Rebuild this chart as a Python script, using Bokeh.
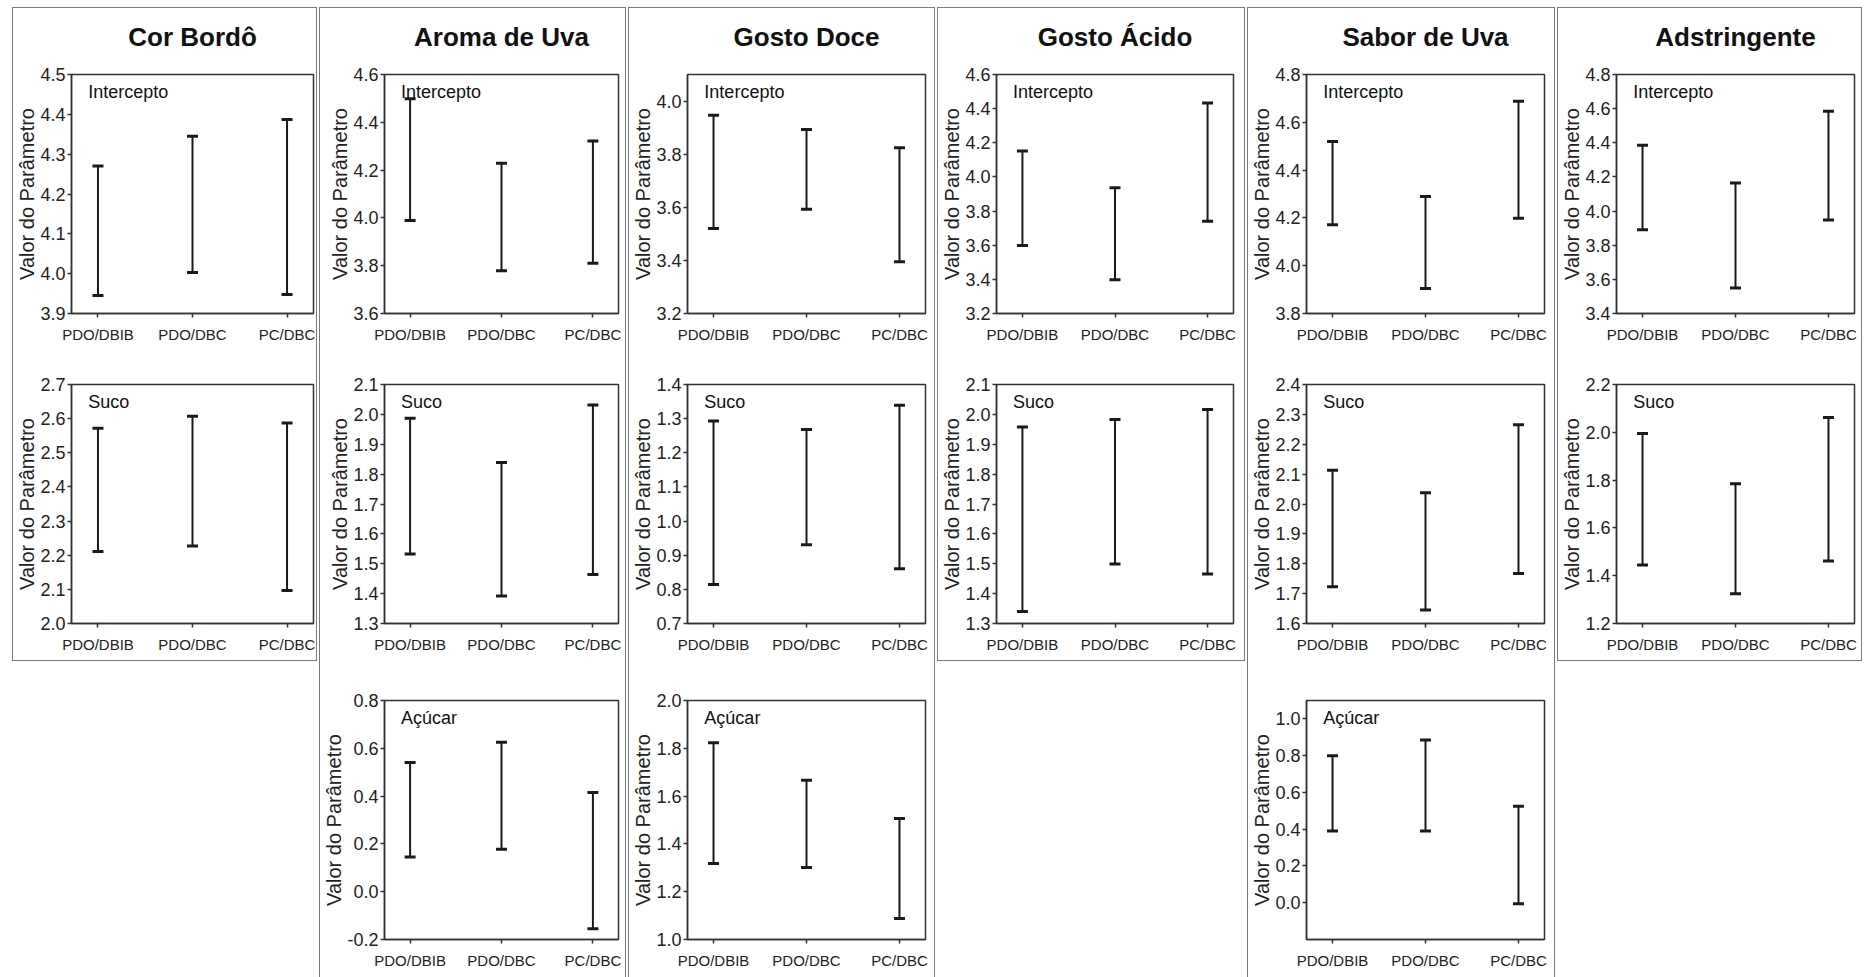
from bokeh.plotting import figure
from bokeh.layouts import row, column
from bokeh.models import Range1d, FixedTicker, Label, NumeralTickFormatter, Spacer
from bokeh.core.properties import value
from bokeh.embed import file_html
from bokeh.resources import INLINE

FONT = "Liberation Sans"

categories = ["PDO/DBIB", "PDO/DBC", "PC/DBC"]
column_titles = ["Cor Bordô", "Aroma de Uva", "Gosto Doce", "Gosto Ácido", "Sabor de Uva", "Adstringente"]

# ---- Cor Bordô
cor_intercepto_low = [3.945, 4.003, 3.948]
cor_intercepto_high = [4.270, 4.345, 4.387]
cor_suco_low = [2.211, 2.227, 2.097]
cor_suco_high = [2.572, 2.607, 2.587]

# ---- Aroma de Uva
aroma_intercepto_low = [3.989, 3.779, 3.810]
aroma_intercepto_high = [4.499, 4.229, 4.322]
aroma_suco_low = [1.533, 1.392, 1.464]
aroma_suco_high = [1.987, 1.839, 2.031]
aroma_acucar_low = [0.145, 0.178, -0.155]
aroma_acucar_high = [0.541, 0.625, 0.415]

# ---- Gosto Doce
doce_intercepto_low = [3.520, 3.593, 3.395]
doce_intercepto_high = [3.947, 3.893, 3.824]
doce_suco_low = [0.814, 0.931, 0.860]
doce_suco_high = [1.293, 1.268, 1.339]
doce_acucar_low = [1.318, 1.301, 1.088]
doce_acucar_high = [1.823, 1.666, 1.506]

# ---- Gosto Ácido
acido_intercepto_low = [3.599, 3.398, 3.740]
acido_intercepto_high = [4.152, 3.936, 4.433]
acido_suco_low = [1.340, 1.499, 1.466]
acido_suco_high = [1.958, 1.983, 2.016]

# ---- Sabor de Uva
sabor_intercepto_low = [4.171, 3.905, 4.199]
sabor_intercepto_high = [4.520, 4.290, 4.688]
sabor_suco_low = [1.723, 1.645, 1.767]
sabor_suco_high = [2.113, 2.038, 2.265]
sabor_acucar_low = [0.390, 0.390, -0.005]
sabor_acucar_high = [0.800, 0.885, 0.525]

# ---- Adstringente
adst_intercepto_low = [3.890, 3.550, 3.948]
adst_intercepto_high = [4.385, 4.165, 4.585]
adst_suco_low = [1.445, 1.325, 1.462]
adst_suco_high = [1.995, 1.785, 2.062]

# ---- axis tick values
cor_intercepto_ticks = [3.9, 4.0, 4.1, 4.2, 4.3, 4.4, 4.5]
cor_suco_ticks = [2.0, 2.1, 2.2, 2.3, 2.4, 2.5, 2.6, 2.7]
aroma_intercepto_ticks = [3.6, 3.8, 4.0, 4.2, 4.4, 4.6]
aroma_suco_ticks = [1.3, 1.4, 1.5, 1.6, 1.7, 1.8, 1.9, 2.0, 2.1]
aroma_acucar_ticks = [-0.2, 0.0, 0.2, 0.4, 0.6, 0.8]
doce_intercepto_ticks = [3.2, 3.4, 3.6, 3.8, 4.0]
doce_suco_ticks = [0.7, 0.8, 0.9, 1.0, 1.1, 1.2, 1.3, 1.4]
doce_acucar_ticks = [1.0, 1.2, 1.4, 1.6, 1.8, 2.0]
acido_intercepto_ticks = [3.2, 3.4, 3.6, 3.8, 4.0, 4.2, 4.4, 4.6]
acido_suco_ticks = [1.3, 1.4, 1.5, 1.6, 1.7, 1.8, 1.9, 2.0, 2.1]
sabor_intercepto_ticks = [3.8, 4.0, 4.2, 4.4, 4.6, 4.8]
sabor_suco_ticks = [1.6, 1.7, 1.8, 1.9, 2.0, 2.1, 2.2, 2.3, 2.4]
sabor_acucar_ticks = [0.0, 0.2, 0.4, 0.6, 0.8, 1.0]
adst_intercepto_ticks = [3.4, 3.6, 3.8, 4.0, 4.2, 4.4, 4.6, 4.8]
adst_suco_ticks = [1.2, 1.4, 1.6, 1.8, 2.0, 2.2]

columns_spec = [
    [("Intercepto", cor_intercepto_low, cor_intercepto_high, (3.9, 4.5), cor_intercepto_ticks),
     ("Suco", cor_suco_low, cor_suco_high, (2.0, 2.7), cor_suco_ticks)],
    [("Intercepto", aroma_intercepto_low, aroma_intercepto_high, (3.6, 4.6), aroma_intercepto_ticks),
     ("Suco", aroma_suco_low, aroma_suco_high, (1.3, 2.1), aroma_suco_ticks),
     ("Açúcar", aroma_acucar_low, aroma_acucar_high, (-0.2, 0.8), aroma_acucar_ticks)],
    [("Intercepto", doce_intercepto_low, doce_intercepto_high, (3.2, 4.1), doce_intercepto_ticks),
     ("Suco", doce_suco_low, doce_suco_high, (0.7, 1.4), doce_suco_ticks),
     ("Açúcar", doce_acucar_low, doce_acucar_high, (1.0, 2.0), doce_acucar_ticks)],
    [("Intercepto", acido_intercepto_low, acido_intercepto_high, (3.2, 4.6), acido_intercepto_ticks),
     ("Suco", acido_suco_low, acido_suco_high, (1.3, 2.1), acido_suco_ticks)],
    [("Intercepto", sabor_intercepto_low, sabor_intercepto_high, (3.8, 4.8), sabor_intercepto_ticks),
     ("Suco", sabor_suco_low, sabor_suco_high, (1.6, 2.4), sabor_suco_ticks),
     ("Açúcar", sabor_acucar_low, sabor_acucar_high, (-0.2, 1.1), sabor_acucar_ticks)],
    [("Intercepto", adst_intercepto_low, adst_intercepto_high, (3.4, 4.8), adst_intercepto_ticks),
     ("Suco", adst_suco_low, adst_suco_high, (1.2, 2.2), adst_suco_ticks)],
]

# per-column geometry: (figure width, left border, frame width)
col_geom = [(303, 55, 245), (305, 58, 240), (305, 56, 240),
            (306, 52, 243), (306, 53, 243), (303, 53, 243)]

FRAME_H = 239
XMIN, XMAX = -0.28, 2.28
INK = "#1a1a1a"
FRAME_COL = "#333333"


def title_fig(text, w):
    p = figure(width=w, height=56, x_range=Range1d(0, 1), y_range=Range1d(0, 1),
               toolbar_location=None, output_backend="svg", min_border=0,
               x_axis_location=None, y_axis_location=None)
    p.grid.visible = False
    p.outline_line_color = None
    p.text(x=[0.5], y=[0.5], text=[text], text_align="center", text_baseline="middle",
           text_font=value(FONT), text_font_size="26px", text_font_style="bold",
           text_color="#111111")
    return p


def panel_fig(name, low, high, yr, yticks, top, bottom, geom):
    w, left, fw = geom
    right = w - left - fw
    h = top + FRAME_H + bottom
    p = figure(width=w, height=h, x_range=Range1d(XMIN, XMAX), y_range=Range1d(*yr),
               toolbar_location=None, output_backend="svg",
               min_border_left=left, min_border_right=right,
               min_border_top=top, min_border_bottom=bottom)
    p.grid.visible = False
    p.outline_line_color = FRAME_COL
    p.outline_line_width = 1.5
    p.outline_line_alpha = 1.0

    xs = list(range(len(categories)))
    p.segment(x0=xs, y0=low, x1=xs, y1=high, line_color=INK, line_width=2)
    p.scatter(x=xs + xs, y=list(low) + list(high), marker="dash", size=11,
              line_color=INK, line_width=3)

    p.xaxis.ticker = FixedTicker(ticks=xs)
    p.xaxis.major_label_overrides = {i: c for i, c in enumerate(categories)}
    p.yaxis.ticker = FixedTicker(ticks=yticks)
    p.yaxis.formatter = NumeralTickFormatter(format="0.0")
    p.yaxis.axis_label = "Valor do Parâmetro"
    p.yaxis.axis_label_text_font = FONT
    p.yaxis.axis_label_text_font_size = "20px"
    p.yaxis.axis_label_text_font_style = "normal"
    p.yaxis.axis_label_text_color = "#222222"
    p.yaxis.axis_label_standoff = -1
    for ax in (p.xaxis, p.yaxis):
        ax.axis_line_color = FRAME_COL
        ax.axis_line_width = 1.5
        ax.major_tick_line_color = FRAME_COL
        ax.major_tick_line_width = 1.5
        ax.major_tick_in = 0
        ax.major_tick_out = 4
        ax.minor_tick_line_color = None
        ax.major_label_text_font = FONT
        ax.major_label_text_color = "#222222"
    p.yaxis.major_label_text_font_size = "18px"
    p.yaxis.major_label_standoff = 2
    p.xaxis.major_label_text_font_size = "15px"
    p.xaxis.major_label_standoff = 8

    dx = (XMAX - XMIN) / fw * 17
    dy = (yr[1] - yr[0]) / FRAME_H * 17
    p.add_layout(Label(x=XMIN + dx, y=yr[1] - dy, text=name, text_align="left",
                       text_baseline="middle", text_font=FONT, text_font_size="18px",
                       text_color="#111111"))
    return p


cols = []
for title, panels, geom in zip(column_titles, columns_spec, col_geom):
    n = len(panels)
    children = [title_fig(title, geom[0])]
    for i, (name, low, high, yr, yticks) in enumerate(panels):
        if i == 0:
            top, bottom = 10, 35
        elif i == 1:
            top, bottom = 36, (37 if n == 2 else 35)
        else:
            top, bottom = 42, 38
        children.append(panel_fig(name, low, high, yr, yticks, top, bottom, geom))
    style = {"border": "1px solid #7a7a7a"}
    if n == 3:
        style["border-bottom"] = "none"
    cols.append(column(children, styles=style, align="start"))

layout = column([Spacer(height=7), row([Spacer(width=10)] + cols, spacing=2)], spacing=0)

open("out.html", "w").write(file_html(layout, INLINE))
